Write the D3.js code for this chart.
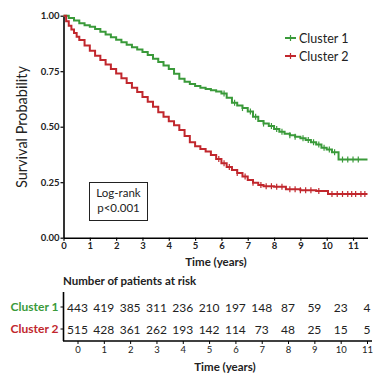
<!DOCTYPE html>
<html><head><meta charset="utf-8">
<script src="https://cdn.jsdelivr.net/npm/d3@7"></script>
<style>body{margin:0;background:#fff}svg{display:block;font-family:Lato,"Open Sans",sans-serif}</style>
</head><body><svg id="c" width="375" height="375"></svg>
<script>
const clusters = ["Cluster 1","Cluster 2"];
const colors = ["#3a9a3a","#c1272d"];
const c1Time = [0,0.2,0.4,0.6,0.8,1.0,1.2,1.4,1.6,1.8,2.0,2.2,2.4,2.6,2.8,3.0,3.2,3.4,3.6,3.8,4.0,4.2,4.4,4.6,4.8,5.0,5.2,5.4,5.6,5.8,6.0,6.2,6.4,6.6,6.8,7.0,7.2,7.4,7.6,7.8,8.0,8.2,8.4,8.6,8.8,9.0,9.2,9.4,9.6,9.8,10.0,10.2,10.45,11.55];
const c1Surv = [1.000,0.990,0.978,0.966,0.957,0.950,0.940,0.928,0.915,0.903,0.892,0.880,0.869,0.858,0.848,0.837,0.823,0.806,0.792,0.776,0.760,0.738,0.716,0.702,0.692,0.683,0.676,0.670,0.664,0.658,0.650,0.630,0.608,0.596,0.584,0.568,0.545,0.526,0.514,0.503,0.490,0.477,0.468,0.462,0.455,0.448,0.440,0.430,0.420,0.405,0.397,0.385,0.352,0.352];
const c2Time = [0,0.1,0.2,0.3,0.4,0.5,0.6,0.8,1.0,1.2,1.4,1.6,1.8,2.0,2.2,2.4,2.6,2.8,3.0,3.2,3.4,3.6,3.8,4.0,4.2,4.4,4.6,4.8,5.0,5.2,5.4,5.6,5.8,6.0,6.2,6.4,6.6,6.8,7.0,7.2,7.4,7.6,8.0,8.45,9.0,9.6,10.05,11.55];
const c2Surv = [1.000,0.975,0.955,0.938,0.922,0.905,0.890,0.866,0.842,0.820,0.800,0.780,0.760,0.740,0.718,0.697,0.676,0.656,0.634,0.612,0.590,0.565,0.545,0.524,0.506,0.485,0.458,0.430,0.412,0.400,0.388,0.372,0.355,0.335,0.318,0.305,0.292,0.276,0.260,0.248,0.237,0.232,0.229,0.218,0.214,0.210,0.197,0.197];
const c1Censor = [6.1,6.5,6.8,7.1,7.3,7.6,7.9,8.1,8.3,8.6,8.8,9.1,9.3,9.5,9.7,9.9,10.1,10.3,10.6,10.8,11.0,11.2];
const c2Censor = [5.9,6.1,6.3,6.6,6.9,7.2,7.5,7.7,7.9,8.1,8.3,8.6,8.8,9.0,9.2,9.4,9.7,10.2,10.4,10.6,10.8,10.95,11.1,11.3,11.45];
const yTicks = [0,0.25,0.5,0.75,1];
const xTicks = [0,1,2,3,4,5,6,7,8,9,10,11];
const risk1 = [443,419,385,311,236,210,197,148,87,59,23,4];
const risk2 = [515,428,361,262,193,142,114,73,48,25,15,5];

const svg = d3.select("#c");
const x = d3.scaleLinear().domain([0,11.55]).range([63.5,367.5]);
const y = d3.scaleLinear().domain([0,1]).range([237.7,15.7]);

// axes
const yAx = svg.append("g").attr("transform","translate(63.5,0)")
  .call(d3.axisLeft(y).tickValues(yTicks).tickFormat(d3.format(".2f")).tickSize(3).tickSizeOuter(0));
const xAx = svg.append("g").attr("transform","translate(0,237.7)")
  .call(d3.axisBottom(x).tickValues(xTicks).tickSize(3).tickSizeOuter(0));
[yAx,xAx].forEach(a=>{
  a.select(".domain").attr("stroke","#000").attr("stroke-width",1.6);
  a.selectAll(".tick line").attr("stroke","#000").attr("stroke-width",1.2);
  a.selectAll("text").attr("font-family","Lato,sans-serif").attr("font-size",9.5).attr("font-weight","bold").attr("fill","#222");
});
yAx.selectAll("text").attr("x",-4);
xAx.selectAll("text").attr("y",5);

svg.append("text").attr("transform","translate(27,127) rotate(-90)").attr("text-anchor","middle")
  .attr("font-size",14.5).attr("fill","#222").text("Survival Probability");
svg.append("text").attr("x",216).attr("y",266).attr("text-anchor","middle")
  .attr("font-size",11.5).attr("font-weight","bold").attr("fill","#222").text("Time (years)");

// curves
const series = [
  {t:c1Time,s:c1Surv,c:c1Censor,col:colors[0]},
  {t:c2Time,s:c2Surv,c:c2Censor,col:colors[1]}
];
const line = d3.line().x(d=>x(d[0])).y(d=>y(d[1])).curve(d3.curveStepAfter);
series.forEach(sr=>{
  const pts = sr.t.map((t,i)=>[t,sr.s[i]]);
  svg.append("path").datum(pts).attr("d",line).attr("fill","none")
    .attr("stroke",sr.col).attr("stroke-width",2);
  const bis = d3.bisector(d=>d).right;
  svg.append("g").selectAll("line").data(sr.c).join("line")
    .attr("x1",d=>x(d)).attr("x2",d=>x(d))
    .attr("y1",d=>y(sr.s[bis(sr.t,d)-1])-3).attr("y2",d=>y(sr.s[bis(sr.t,d)-1])+3)
    .attr("stroke",sr.col).attr("stroke-width",1.2);
});

// legend
clusters.forEach((name,i)=>{
  const ly = 38 + i*18;
  const g = svg.append("g");
  g.append("line").attr("x1",285).attr("x2",296).attr("y1",ly).attr("y2",ly).attr("stroke",colors[i]).attr("stroke-width",2);
  g.append("line").attr("x1",290.5).attr("x2",290.5).attr("y1",ly-3).attr("y2",ly+3).attr("stroke",colors[i]).attr("stroke-width",1.2);
  g.append("text").attr("x",299).attr("y",ly+4.5).attr("font-size",12.5).attr("fill","#222").text(name);
});

// log-rank box
svg.append("rect").attr("x",89.5).attr("y",182.5).attr("width",58).attr("height",38)
  .attr("fill","#fff").attr("stroke","#222").attr("stroke-width",1);
svg.append("text").attr("x",118.5).attr("y",197).attr("text-anchor","middle").attr("font-size",11.5).attr("fill","#222").text("Log-rank");
svg.append("text").attr("x",118.5).attr("y",212).attr("text-anchor","middle").attr("font-size",11.5).attr("fill","#222").text("p<0.001");

// risk table
svg.append("text").attr("x",63).attr("y",285).attr("font-size",11.5).attr("font-weight","bold").attr("fill","#222").text("Number of patients at risk");
const xt = d3.scaleLinear().domain([0,11]).range([77.5,367]);
const yt = d3.scaleBand().domain(clusters).range([296,340]);
const tAx = svg.append("g").attr("transform","translate(0,341)")
  .call(d3.axisBottom(xt).tickValues(xTicks).tickSize(3).tickSizeOuter(0));
tAx.select(".domain").attr("d","M63,0H372").attr("stroke","#000").attr("stroke-width",1.6);
tAx.selectAll(".tick line").attr("stroke","#000");
tAx.selectAll("text").attr("font-family","Lato,sans-serif").attr("font-size",9.5).attr("fill","#222").attr("y",5);
const lAx = svg.append("g").attr("transform","translate(63.5,0)")
  .call(d3.axisLeft(yt).tickSize(3).tickSizeOuter(0));
lAx.select(".domain").attr("d","M0,292V341").attr("stroke","#000").attr("stroke-width",1.6);
lAx.selectAll(".tick line").attr("stroke","#000");
lAx.selectAll("text").attr("font-family","Lato,sans-serif").attr("font-size",12).attr("font-weight","bold")
  .attr("x",-5).attr("fill",(d,i)=>colors[i]);
[risk1,risk2].forEach((r,i)=>{
  svg.append("g").selectAll("text").data(r).join("text")
    .attr("x",(d,j)=>xt(xTicks[j])).attr("y",yt(clusters[i])+yt.bandwidth()/2+4.5)
    .attr("text-anchor","middle").attr("font-size",12).attr("fill","#222").text(d=>d);
});
svg.append("text").attr("x",225).attr("y",371).attr("text-anchor","middle")
  .attr("font-size",11.5).attr("font-weight","bold").attr("fill","#222").text("Time (years)");
</script></body></html>
